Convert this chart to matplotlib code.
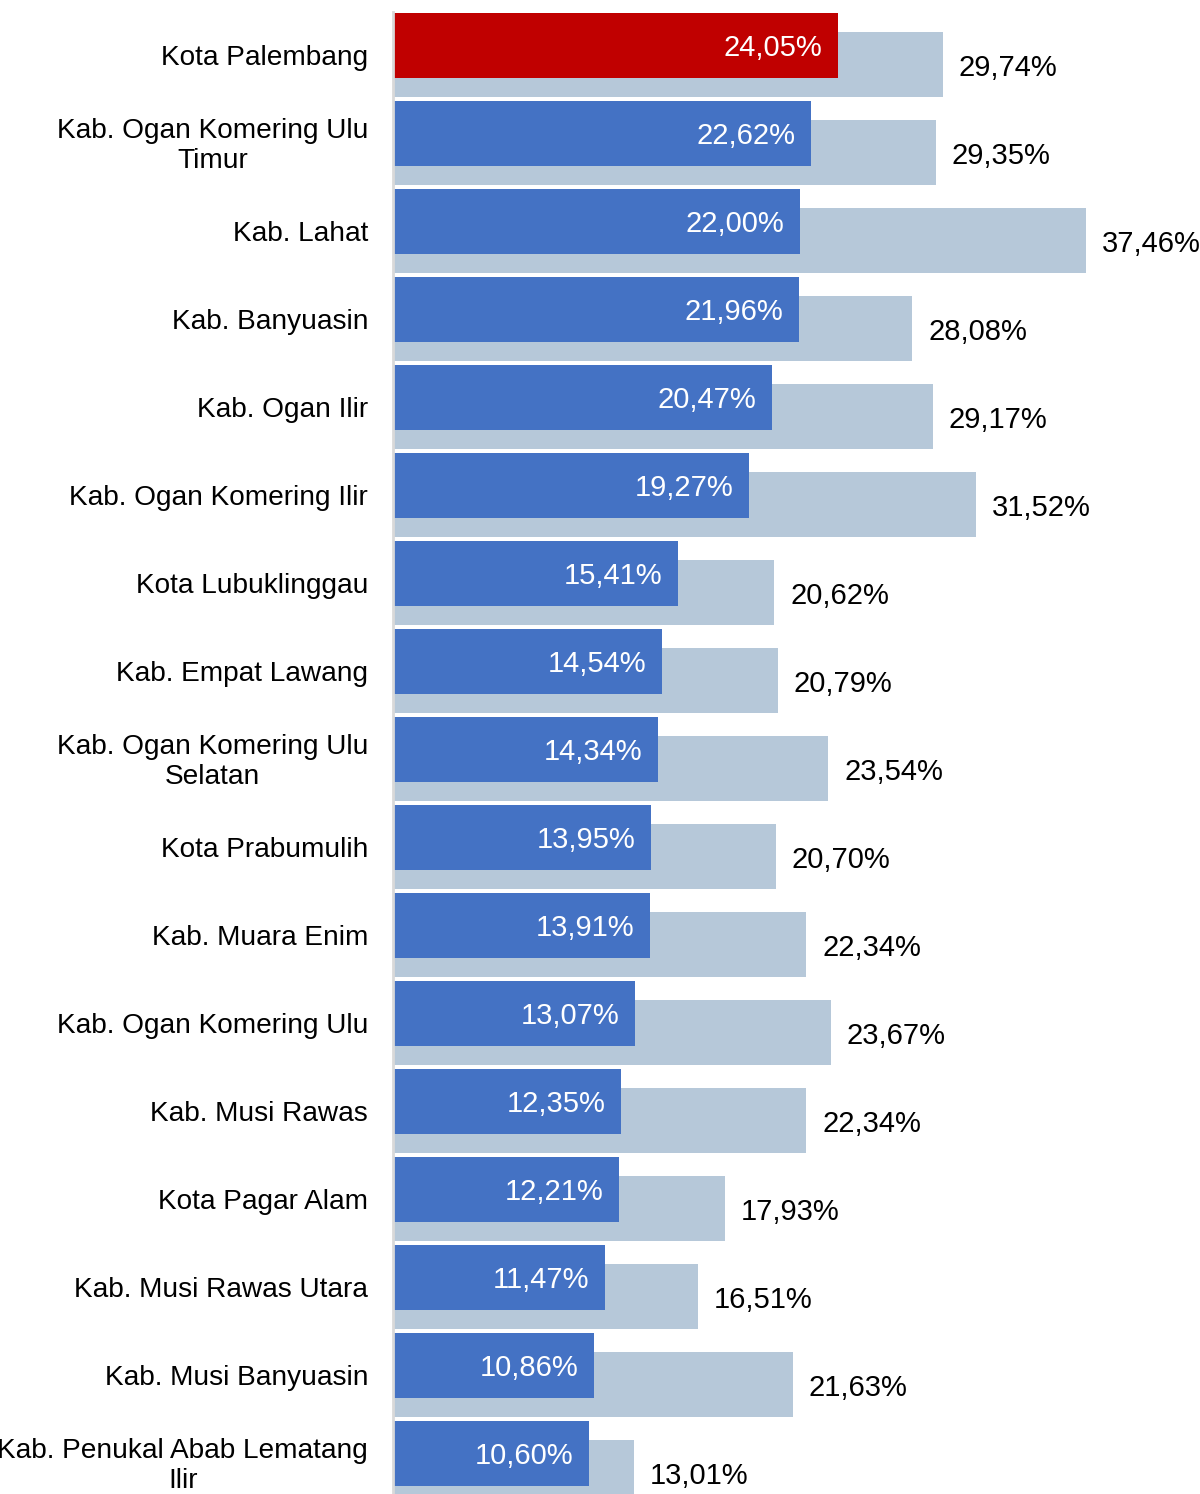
import matplotlib.pyplot as plt

plt.rcParams['font.family'] = ['Liberation Sans', 'DejaVu Sans']

regions = ['Kota Palembang', 'Kab. Ogan Komering Ulu\nTimur', 'Kab. Lahat', 'Kab. Banyuasin',
           'Kab. Ogan Ilir', 'Kab. Ogan Komering Ilir', 'Kota Lubuklinggau', 'Kab. Empat Lawang',
           'Kab. Ogan Komering Ulu\nSelatan', 'Kota Prabumulih', 'Kab. Muara Enim',
           'Kab. Ogan Komering Ulu', 'Kab. Musi Rawas', 'Kota Pagar Alam',
           'Kab. Musi Rawas Utara', 'Kab. Musi Banyuasin', 'Kab. Penukal Abab Lematang\nIlir']
front = [24.05, 22.62, 22.00, 21.96, 20.47, 19.27, 15.41, 14.54, 14.34, 13.95,
         13.91, 13.07, 12.35, 12.21, 11.47, 10.86, 10.60]
back = [29.74, 29.35, 37.46, 28.08, 29.17, 31.52, 20.62, 20.79, 23.54, 20.70,
        22.34, 23.67, 22.34, 17.93, 16.51, 21.63, 13.01]

fig = plt.figure(figsize=(12, 14.94), dpi=100)
ax = fig.add_axes([393 / 1200, 0, 1 - 393 / 1200, 1])

rows = range(len(regions))
off = 0.11
h = 0.735
dy = 0.035  # nudge text down a little
ax.barh([r + off for r in rows], back, height=h, color='#b6c8d9')
colors = ['#c00000'] + ['#4472c4'] * (len(regions) - 1)
ax.barh([r - off for r in rows], front, height=h, color=colors)

for r in rows:
    ax.text(front[r] - 0.85, r - off + dy, f'{front[r]:.2f}%'.replace('.', ','),
            ha='right', va='center', color='white', fontsize=21)
    ax.text(back[r] + 0.85, r + off + dy, f'{back[r]:.2f}%'.replace('.', ','),
            ha='left', va='center', color='black', fontsize=21)
    ax.text(-1.35, r + dy, regions[r], ha='right', va='center', multialignment='center',
            color='black', fontsize=20.2)

ax.set_xlim(0, 807 / 18.5)
ax.set_ylim((1494 - 55) / 88, -55 / 88)
ax.set_xticks([])
ax.set_yticks([])
for s in ['top', 'right', 'bottom']:
    ax.spines[s].set_visible(False)
ax.spines['left'].set_color('#d9d9d9')
ax.spines['left'].set_linewidth(2)
ax.spines['left'].set_bounds(-0.49, (1494 - 55) / 88)

fig.savefig('out.png', dpi=100)
